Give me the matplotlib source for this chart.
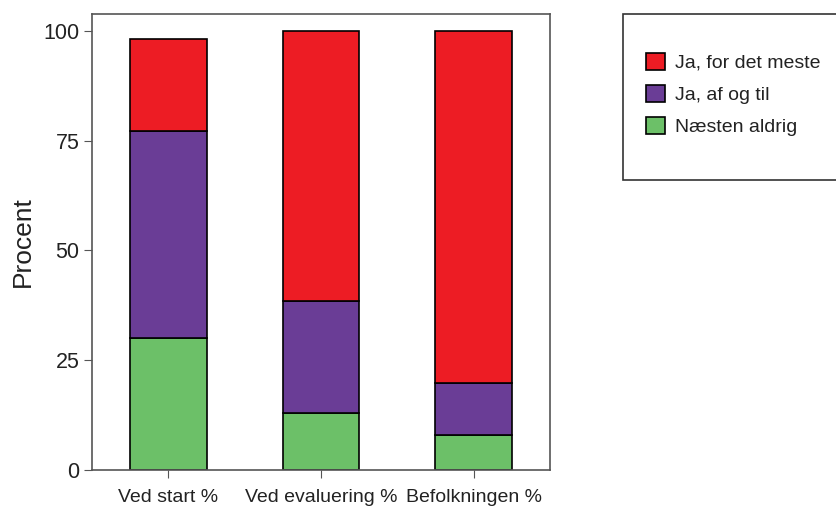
import matplotlib.pyplot as plt
from matplotlib.patches import Rectangle

plt.rcParams['font.family'] = ['Liberation Sans', 'DejaVu Sans']

groups = ['Ved start %', 'Ved evaluering %', 'Befolkningen %']
series = ['Ja, for det meste', 'Ja, af og til', 'Næsten aldrig']
naesten = [30.0, 13.0, 8.0]
af_og_til = [47.2, 25.6, 11.8]
meste = [21.0, 61.4, 80.2]
colors = ['#ED1C24', '#6A3D96', '#6CC068']

fig = plt.figure(figsize=(8.36, 5.07), dpi=100)
W, H = 836, 507
ax = fig.add_axes([92 / W, 1 - 470 / H, 458 / W, 456 / H])

x = range(len(groups))
bottom2 = [a + b for a, b in zip(naesten, af_og_til)]
h_green = ax.bar(x, naesten, width=0.5, color=colors[2], edgecolor='black', linewidth=1.2)
h_purple = ax.bar(x, af_og_til, width=0.5, bottom=naesten, color=colors[1],
                  edgecolor='black', linewidth=1.2)
h_red = ax.bar(x, meste, width=0.5, bottom=bottom2, color=colors[0],
               edgecolor='black', linewidth=1.2)

ax.set_xlim(-0.5, 2.5)
ax.set_ylim(0, 100 * 456 / 439)
ax.set_yticks([0, 25, 50, 75, 100])
ax.set_xticks(list(x))
ax.set_xticklabels(groups, fontsize=14, color='#222222')
ax.tick_params(axis='y', labelsize=15.5, length=6, color='#555555', pad=3, labelcolor='#222222')
ax.tick_params(axis='x', length=6, color='#555555', pad=8)
for s in ax.spines.values():
    s.set_color('#555555')
    s.set_linewidth(1.2)
ax.set_ylabel('Procent', fontsize=19, labelpad=6, color='#222222')

# legend box runs off the right edge
fig.patches.append(Rectangle((623 / W, 1 - 180 / H), 0.3, 166 / H, transform=fig.transFigure,
                             facecolor='white', edgecolor='#333333', linewidth=1.2))
fig.legend([h_red, h_purple, h_green], series, loc='upper left',
           bbox_to_anchor=(628 / W, 1 - 35 / H), frameon=False, fontsize=14,
           handlelength=1.0, handleheight=1.0, handletextpad=0.5, labelspacing=0.66,
           labelcolor='#222222')

fig.savefig('out.png', dpi=100)
